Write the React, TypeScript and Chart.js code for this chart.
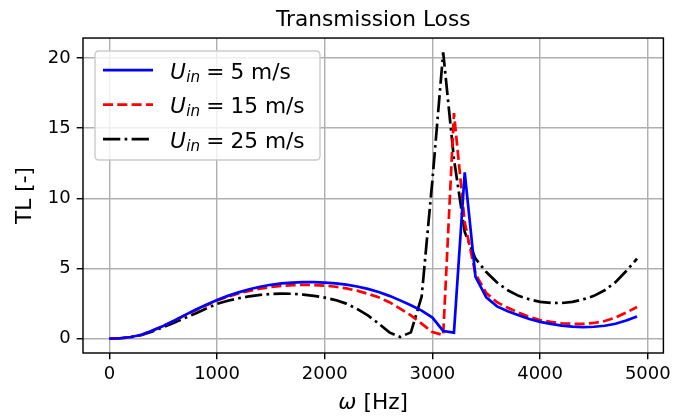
import React, { useEffect, useRef } from "react";
import { Chart, registerables } from "chart.js";

Chart.register(...registerables);

const frequencies = [
  0, 100, 200, 300, 400, 500, 600, 700, 800, 900,
  1000, 1100, 1200, 1300, 1400, 1500, 1600, 1700, 1800, 1900,
  2000, 2100, 2200, 2300, 2400, 2500, 2600, 2700, 2800, 2900,
  3000, 3100, 3200, 3300, 3400, 3500, 3600, 3700, 3800, 3900,
  4000, 4100, 4200, 4300, 4400, 4500, 4600, 4700, 4800, 4900,
];

const tl5 = [
  0, 0.03, 0.12, 0.28, 0.58, 0.9, 1.28, 1.68, 2.06, 2.42,
  2.76, 3.05, 3.3, 3.52, 3.7, 3.84, 3.94, 4.0, 4.03, 4.03,
  4.0, 3.94, 3.85, 3.72, 3.55, 3.33, 3.05, 2.73, 2.38, 2.0,
  1.5, 0.55, 0.43, 11.85, 4.4, 2.95, 2.3, 1.95, 1.67, 1.4,
  1.2, 1.05, 0.93, 0.86, 0.83, 0.85, 0.92, 1.06, 1.3, 1.58,
];

const tl15 = [
  0, 0.03, 0.12, 0.28, 0.58, 0.9, 1.27, 1.66, 2.03, 2.38,
  2.72, 3.0, 3.22, 3.41, 3.56, 3.68, 3.76, 3.81, 3.83, 3.82,
  3.78, 3.7, 3.58, 3.42, 3.2, 2.95, 2.6, 2.14, 1.66, 1.07,
  0.47, 0.26, 16.07, 8.3, 4.6, 3.25, 2.6, 2.2, 1.85, 1.55,
  1.33, 1.2, 1.1, 1.06, 1.06, 1.12, 1.26, 1.5, 1.86, 2.26,
];

const tl25 = [
  0, 0.03, 0.11, 0.26, 0.52, 0.82, 1.14, 1.47, 1.8, 2.15,
  2.48, 2.7, 2.88, 3.02, 3.12, 3.18, 3.21, 3.2, 3.14, 3.05,
  2.93, 2.75, 2.5, 2.12, 1.66, 1.08, 0.45, 0.12, 0.45, 3.0,
  11.3, 20.4, 12.8, 7.6, 5.7, 4.75, 4.0, 3.45, 3.05, 2.8,
  2.62, 2.55, 2.54, 2.62, 2.8, 3.05, 3.45, 4.03, 4.82, 5.71,
];

const xTicks = [0, 1000, 2000, 3000, 4000, 5000];
const yTicks = [0, 5, 10, 15, 20];
const speedLabels = ["5 m/s", "15 m/s", "25 m/s"];
const seriesColors = ["#0000ff", "#ff0000", "#000000"];

const FONT = "'DejaVu Sans', sans-serif";
const SZ_TICK = 18;
const SZ_LABEL = 21.7;

function roundRectPath(ctx: CanvasRenderingContext2D, x: number, y: number, w: number, h: number, r: number) {
  ctx.beginPath();
  ctx.moveTo(x + r, y);
  ctx.lineTo(x + w - r, y);
  ctx.quadraticCurveTo(x + w, y, x + w, y + r);
  ctx.lineTo(x + w, y + h - r);
  ctx.quadraticCurveTo(x + w, y + h, x + w - r, y + h);
  ctx.lineTo(x + r, y + h);
  ctx.quadraticCurveTo(x, y + h, x, y + h - r);
  ctx.lineTo(x, y + r);
  ctx.quadraticCurveTo(x, y, x + r, y);
  ctx.closePath();
}

const decorPlugin = {
  id: "decor",
  afterDatasetsDraw(chart: any) {
    const { ctx, chartArea } = chart;
    const { left, top, right, bottom } = chartArea;
    ctx.save();
    ctx.strokeStyle = "#000";
    ctx.lineWidth = 1.44;
    ctx.setLineDash([]);
    ctx.strokeRect(left, top, right - left, bottom - top);
    ctx.restore();
  },
  afterDraw(chart: any) {
    const { ctx, chartArea } = chart;
    const { left, top, right } = chartArea;
    ctx.save();
    // legend
    const lx = left + 12;
    const ly = top + 13;
    const lw = 225;
    const lh = 109;
    roundRectPath(ctx, lx, ly, lw, lh, 4);
    ctx.fillStyle = "rgba(255,255,255,0.8)";
    ctx.fill();
    ctx.strokeStyle = "#cccccc";
    ctx.lineWidth = 1.44;
    ctx.stroke();
    chart.data.datasets.forEach((ds: any, i: number) => {
      const y = ly + 19 + i * 34.5;
      ctx.beginPath();
      ctx.setLineDash(ds.borderDash || []);
      ctx.strokeStyle = ds.borderColor;
      ctx.lineWidth = ds.borderWidth;
      ctx.lineCap = "butt";
      ctx.moveTo(lx + 8, y);
      ctx.lineTo(lx + 58, y);
      ctx.stroke();
      ctx.setLineDash([]);
      const base = y + 8.5;
      ctx.fillStyle = "#000";
      ctx.textAlign = "left";
      ctx.textBaseline = "alphabetic";
      let x = lx + 75;
      ctx.font = `italic ${SZ_LABEL}px ${FONT}`;
      ctx.fillText("U", x, base);
      x += ctx.measureText("U").width;
      ctx.font = `italic ${SZ_LABEL * 0.7}px ${FONT}`;
      ctx.fillText("in", x + 0.5, base + 3);
      x += ctx.measureText("in").width + 0.5;
      ctx.font = `${SZ_LABEL}px ${FONT}`;
      x += 6;
      ctx.fillText("=", x, base);
      x += ctx.measureText("=").width + 6;
      ctx.fillText(speedLabels[i], x, base);
    });
    // x-axis title with italic omega
    ctx.font = `italic ${SZ_LABEL}px ${FONT}`;
    const wOmega = ctx.measureText("ω").width;
    ctx.font = `${SZ_LABEL}px ${FONT}`;
    const wRest = ctx.measureText(" [Hz]").width;
    const cx = (left + right) / 2;
    const sx = cx - (wOmega + wRest) / 2;
    ctx.textBaseline = "middle";
    ctx.textAlign = "left";
    ctx.fillStyle = "#000";
    ctx.font = `italic ${SZ_LABEL}px ${FONT}`;
    ctx.fillText("ω", sx, 403);
    ctx.font = `${SZ_LABEL}px ${FONT}`;
    ctx.fillText(" [Hz]", sx + wOmega, 403);
    ctx.restore();
  },
};

export default function App() {
  const canvasRef = useRef<HTMLCanvasElement | null>(null);

  useEffect(() => {
    document.body.style.margin = "0";
    const canvas = canvasRef.current;
    if (!canvas) return;
    const mk = (vals: number[]) => frequencies.map((f, i) => ({ x: f, y: vals[i] }));
    const chart = new Chart(canvas, {
      type: "line",
      data: {
        datasets: [
          {
            label: "U_in = " + speedLabels[0],
            data: mk(tl5),
            borderColor: seriesColors[0],
            borderWidth: 2.7,
            pointRadius: 0,
            tension: 0,
            fill: false,
            borderCapStyle: "butt",
          },
          {
            label: "U_in = " + speedLabels[1],
            data: mk(tl15),
            borderColor: seriesColors[1],
            borderWidth: 2.7,
            borderDash: [10, 4.3],
            pointRadius: 0,
            tension: 0,
            fill: false,
            borderCapStyle: "butt",
          },
          {
            label: "U_in = " + speedLabels[2],
            data: mk(tl25),
            borderColor: seriesColors[2],
            borderWidth: 2.7,
            borderDash: [17.3, 4.3, 2.7, 4.3],
            pointRadius: 0,
            tension: 0,
            fill: false,
            borderCapStyle: "butt",
          },
        ],
      },
      options: {
        responsive: false,
        animation: false,
        layout: { padding: { left: 0, right: 10, top: 0, bottom: 0 } },
        plugins: {
          legend: { display: false },
          tooltip: { enabled: false },
          title: {
            display: true,
            text: "Transmission Loss",
            color: "#000",
            font: { family: FONT, size: SZ_LABEL, weight: "normal" },
            padding: { top: 7, bottom: 5 },
            fullSize: false,
          },
        },
        scales: {
          x: {
            type: "linear",
            min: -245,
            max: 5145,
            afterBuildTicks: (s: any) => {
              s.ticks = xTicks.map((v) => ({ value: v }));
            },
            afterFit: (s: any) => {
              s.height = 63;
            },
            ticks: {
              color: "#000",
              font: { family: FONT, size: SZ_TICK },
              padding: 4,
              maxRotation: 0,
              autoSkip: false,
              callback: (v: any) => String(v),
            },
            grid: {
              color: "#b0b0b0",
              lineWidth: 1.44,
              tickLength: 6.3,
              tickColor: "#000",
              tickWidth: 1.44,
            },
            border: { display: false },
          },
          y: {
            type: "linear",
            min: -1.02,
            max: 21.42,
            afterBuildTicks: (s: any) => {
              s.ticks = yTicks.map((v) => ({ value: v }));
            },
            afterFit: (s: any) => {
              s.width = 83;
            },
            ticks: {
              color: "#000",
              font: { family: FONT, size: SZ_TICK },
              padding: 6,
              autoSkip: false,
              callback: (v: any) => String(v),
            },
            grid: {
              color: "#b0b0b0",
              lineWidth: 1.44,
              tickLength: 6.3,
              tickColor: "#000",
              tickWidth: 1.44,
            },
            border: { display: false },
            title: {
              display: true,
              text: "TL [-]",
              color: "#000",
              font: { family: FONT, size: SZ_LABEL },
              padding: { top: 12, bottom: 0 },
            },
          },
        },
      },
      plugins: [decorPlugin],
    } as any);
    return () => chart.destroy();
  }, []);

  return (
    <div style={{ position: "absolute", left: 0, top: 0, width: 675, height: 416, background: "#fff" }}>
      <canvas ref={canvasRef} width={675} height={416} style={{ display: "block" }} />
    </div>
  );
}
